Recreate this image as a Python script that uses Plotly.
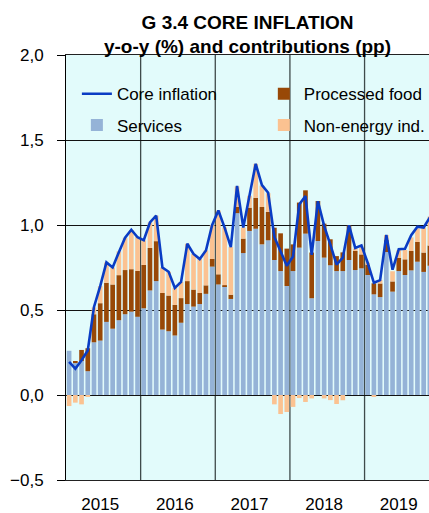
import plotly.graph_objects as go

years = [2015, 2016, 2017, 2018, 2019]
months = [f"{y}-{m:02d}" for y in years for m in range(1, 13)][:59]

services = [
    0.26, 0.19, 0.20, 0.14, 0.31, 0.32, 0.43, 0.39, 0.44, 0.475, 0.49, 0.46,
    0.51, 0.615, 0.67, 0.385, 0.375, 0.35, 0.425, 0.535, 0.52, 0.535, 0.595, 0.755,
    0.65, 0.64, 0.565, 1.07, 0.835, 0.965, 0.978, 0.886, 0.91, 0.794, 0.729, 0.641,
    0.729, 0.867, 0.949, 0.569, 0.906, 0.808, 0.763, 0.729, 0.729, 0.794, 0.735, 0.745,
    0.706, 0.592, 0.576, 0.841, 0.608, 0.729, 0.706, 0.733, 0.784, 0.724, 0.76,
]
processed_food = [
    0.0, 0.01, 0.065, 0.135, 0.165, 0.22, 0.23, 0.26, 0.265, 0.26, 0.25, 0.27,
    0.255, 0.25, 0.235, 0.215, 0.21, 0.18, 0.145, 0.135, 0.10, 0.065, 0.05, 0.045,
    0.06, 0.006, 0.025, 0.037, 0.085, 0.137, 0.182, 0.22, 0.167, 0.19, 0.222, 0.22,
    0.157, 0.265, 0.255, 0.269, 0.235, 0.20, 0.153, 0.088, 0.11, 0.204, 0.112, 0.082,
    0.063, 0.065, 0.08, 0.07, 0.06, 0.078, 0.092, 0.114, 0.116, 0.114, 0.12,
]
non_energy_ind = [
    -0.065, -0.045, -0.055, -0.01, 0.04, 0.10, 0.12, 0.10, 0.14, 0.19, 0.23, 0.20,
    0.145, 0.15, 0.15, 0.15, 0.14, 0.10, 0.095, 0.22, 0.21, 0.20, 0.205, 0.20,
    0.375, 0.34, 0.28, 0.12, 0.065, 0.07, 0.20, 0.125, 0.11, -0.055, -0.112, -0.10,
    -0.07, -0.018, -0.041, -0.02, 0.0, -0.02, -0.03, -0.053, -0.031, 0.0, 0.015, 0.04,
    0.01, -0.006, 0.02, 0.03, 0.06, 0.045, 0.055, 0.08, 0.08, 0.147, 0.17,
]
core_inflation = [
    0.195, 0.155, 0.205, 0.262, 0.518, 0.64, 0.78, 0.75, 0.84, 0.925, 0.972, 0.928,
    0.91, 1.015, 1.055, 0.75, 0.725, 0.63, 0.665, 0.89, 0.83, 0.80, 0.85, 1.0,
    1.085, 0.985, 0.87, 1.23, 0.985, 1.17, 1.36, 1.235, 1.19, 0.93, 0.84, 0.76,
    0.815, 1.12, 1.17, 0.825, 1.14, 0.995, 0.885, 0.767, 0.808, 0.998, 0.865, 0.88,
    0.778, 0.66, 0.676, 0.942, 0.737, 0.857, 0.86, 0.94, 0.99, 0.985, 1.045,
]
year_label_months = ["2015-06", "2016-06", "2017-06", "2018-06", "2019-06"]
year_labels = ["2015", "2016", "2017", "2018", "2019"]
y_ticks = [-0.5, 0.0, 0.5, 1.0, 1.5, 2.0]

FONT = "Liberation Sans, Arial, sans-serif"
C_SERV = "#95B3D7"
C_FOOD = "#984807"
C_NEIG = "#FBC291"
C_LINE = "#0A3CC4"

fig = go.Figure()
fig.add_trace(go.Bar(x=months, y=services, name="Services", marker_color=C_SERV,
                     marker_line_width=0, legend="legend", legendrank=2, legendgroup="serv"))
fig.add_trace(go.Bar(x=months, y=processed_food, name="Processed food", marker_color=C_FOOD,
                     marker_line_width=0, legend="legend2", legendrank=1, legendgroup="food"))
fig.add_trace(go.Bar(x=months, y=non_energy_ind, name="Non-energy ind.", marker_color=C_NEIG,
                     marker_line_width=0, legend="legend2", legendrank=2, legendgroup="neig"))
fig.add_trace(go.Scatter(x=months, y=core_inflation, name="Core inflation", mode="lines",
                         line=dict(color=C_LINE, width=2.6), legend="legend", legendrank=1,
                         legendgroup="core"))

# year separators
for k in range(1, len(years)):
    xb = 12 * k - 0.5
    fig.add_shape(type="line", xref="x", yref="paper", x0=xb, x1=xb, y0=0, y1=1,
                  line=dict(color="#3f4a4a", width=1.3), layer="below")

fig.update_layout(
    width=429, height=513,
    margin=dict(l=66, r=0, t=55, b=33, autoexpand=False),
    paper_bgcolor="white", plot_bgcolor="#E2FBFB",
    barmode="relative", bargap=0.25,
    separators=", ",
    font=dict(family=FONT, size=17, color="#000"),
    title=dict(text="<b>G 3.4 CORE INFLATION<br>y-o-y (%) and contributions (pp)</b>",
               x=0.5, xref="paper", xanchor="center", y=0.944, yref="container",
               yanchor="top", font=dict(family=FONT, size=19, color="#000")),
    xaxis=dict(type="category", range=[-0.5, -0.5 + 58.36], tickmode="array",
               tickvals=year_label_months, ticktext=year_labels, ticks="", showgrid=False,
               showline=True, linecolor="#222", linewidth=1, mirror=True, automargin=False,
               ticklabelstandoff=9, tickfont=dict(size=17)),
    yaxis=dict(range=[-0.5, 2.0], tickmode="array", tickvals=y_ticks, tickformat=".1f",
               ticks="outside", ticklen=8, tickcolor="#000", showline=True, linecolor="#000",
               showgrid=True, gridcolor="#111", gridwidth=1, zeroline=True,
               zerolinecolor="#111", zerolinewidth=1, ticklabelstandoff=10, automargin=False,
               tickfont=dict(size=17)),
    legend=dict(x=0.03, y=0.95, xanchor="left", yanchor="top", bgcolor="rgba(0,0,0,0)",
                font=dict(size=17), tracegroupgap=6, itemwidth=30),
    legend2=dict(x=0.545, y=0.95, xanchor="left", yanchor="top", bgcolor="rgba(0,0,0,0)",
                 font=dict(size=17), tracegroupgap=6, itemwidth=30),
    showlegend=True,
)
fig.write_html("out.html", config={"displayModeBar": False},
               post_script="document.body.style.margin='0';document.body.style.overflow='hidden';")
